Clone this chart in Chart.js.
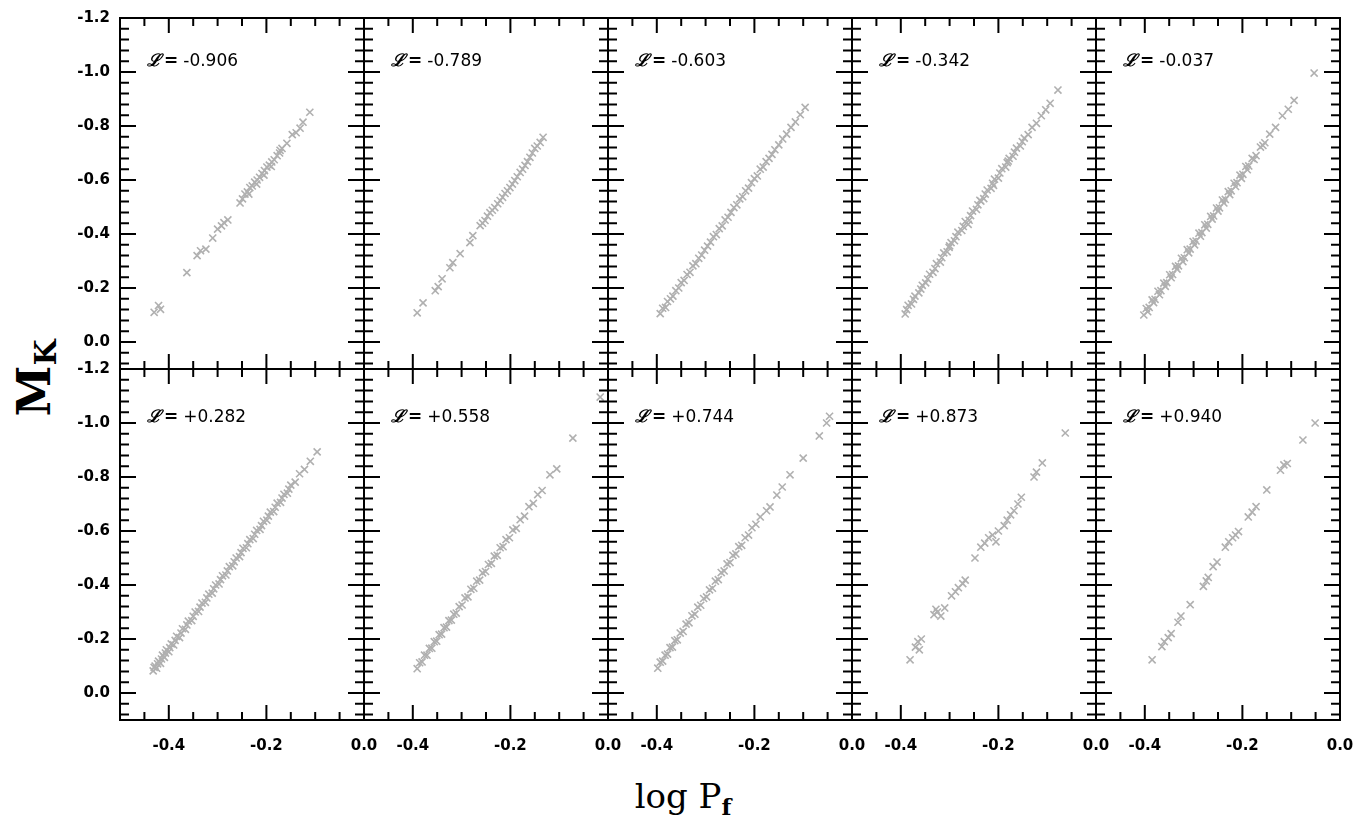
<!DOCTYPE html>
<html>
<head>
<meta charset="utf-8">
<title>M_K vs log P_f</title>
<script src="https://cdn.jsdelivr.net/npm/chart.js@4.4.1/dist/chart.umd.min.js"></script>
<style>
  body { margin: 0; background: #fff; }
  #wrap { position: relative; width: 1361px; height: 830px; overflow: hidden; background: #fff; }
  #wrap canvas { position: absolute; }
  #ytitle {
    position: absolute; left: -20px; top: 350px; width: 110px; height: 56px;
    line-height: 56px; text-align: center; transform: rotate(-90deg);
    font: bold 46px "DejaVu Serif", serif; color: #000; white-space: nowrap;
  }
  #ytitle sub { font-size: 30px; vertical-align: -0.2em; }
  #xtitle {
    position: absolute; left: 583px; top: 776px; width: 200px; text-align: center;
    font: 34px "DejaVu Serif", serif; color: #000; white-space: nowrap;
  }
  #xtitle sub { font-size: 23px; font-weight: bold; vertical-align: -0.3em; }
</style>
</head>
<body>
<div id="wrap">
  <div id="ytitle">M<sub>K</sub></div>
  <div id="xtitle">log P<sub>f</sub></div>
</div>
<script>
// luminosity parameter written in each panel
var lumValues = ['-0.906', '-0.789', '-0.603', '-0.342', '-0.037',
                 '+0.282', '+0.558', '+0.744', '+0.873', '+0.940'];

// axis ticks (labelled)
var xTicks = [-0.4, -0.2, 0.0];
var yTicks = [-1.2, -1.0, -0.8, -0.6, -0.4, -0.2, 0.0];

// [log Pf, M_K] per panel
var ptsA = [[-0.430,-0.110],[-0.421,-0.135],[-0.417,-0.121],[-0.363,-0.257],[-0.342,-0.320],[-0.335,-0.338],
  [-0.324,-0.344],[-0.310,-0.385],[-0.300,-0.418],[-0.292,-0.430],[-0.287,-0.442],[-0.279,-0.452],
  [-0.254,-0.515],[-0.249,-0.530],[-0.244,-0.548],[-0.239,-0.556],[-0.236,-0.548],[-0.234,-0.572],
  [-0.229,-0.578],[-0.224,-0.592],[-0.220,-0.585],[-0.219,-0.600],[-0.214,-0.610],[-0.209,-0.624],
  [-0.205,-0.618],[-0.204,-0.635],[-0.199,-0.648],[-0.194,-0.655],[-0.190,-0.650],[-0.189,-0.667],
  [-0.184,-0.675],[-0.178,-0.690],[-0.173,-0.700],[-0.172,-0.710],[-0.168,-0.717],[-0.158,-0.736],
  [-0.147,-0.768],[-0.139,-0.775],[-0.131,-0.792],[-0.125,-0.814],[-0.111,-0.851]];

var ptsB = [[-0.391,-0.108],[-0.379,-0.145],[-0.354,-0.190],[-0.348,-0.205],[-0.340,-0.234],[-0.324,-0.275],
  [-0.318,-0.294],[-0.303,-0.327],[-0.283,-0.368],[-0.277,-0.394],[-0.262,-0.431],[-0.257,-0.440],
  [-0.252,-0.450],[-0.247,-0.466],[-0.242,-0.479],[-0.237,-0.488],[-0.232,-0.498],[-0.226,-0.512],
  [-0.221,-0.524],[-0.216,-0.536],[-0.211,-0.550],[-0.206,-0.560],[-0.201,-0.572],[-0.196,-0.585],
  [-0.191,-0.598],[-0.186,-0.612],[-0.180,-0.628],[-0.175,-0.640],[-0.170,-0.654],[-0.165,-0.668],
  [-0.160,-0.684],[-0.155,-0.700],[-0.150,-0.717],[-0.145,-0.726],[-0.139,-0.739],[-0.133,-0.758]];

var ptsC = [[-0.393,-0.105],[-0.388,-0.125],[-0.382,-0.128],[-0.378,-0.150],[-0.372,-0.160],[-0.367,-0.170],
  [-0.361,-0.190],[-0.355,-0.200],[-0.350,-0.220],[-0.344,-0.228],[-0.338,-0.250],[-0.332,-0.258],
  [-0.326,-0.282],[-0.320,-0.290],[-0.314,-0.310],[-0.308,-0.322],[-0.302,-0.340],[-0.296,-0.355],
  [-0.290,-0.370],[-0.284,-0.390],[-0.278,-0.398],[-0.272,-0.420],[-0.266,-0.430],[-0.260,-0.452],
  [-0.254,-0.462],[-0.248,-0.480],[-0.242,-0.498],[-0.236,-0.508],[-0.230,-0.530],[-0.224,-0.538],
  [-0.218,-0.560],[-0.212,-0.570],[-0.206,-0.590],[-0.200,-0.605],[-0.194,-0.615],[-0.188,-0.640],
  [-0.182,-0.648],[-0.176,-0.668],[-0.170,-0.680],[-0.164,-0.695],[-0.158,-0.712],[-0.150,-0.730],
  [-0.142,-0.752],[-0.134,-0.770],[-0.125,-0.795],[-0.116,-0.815],[-0.106,-0.842],[-0.096,-0.869]];

var ptsD = [[-0.391,-0.104],[-0.388,-0.120],[-0.385,-0.136],[-0.378,-0.141],[-0.374,-0.158],[-0.371,-0.170],
  [-0.363,-0.182],[-0.359,-0.196],[-0.356,-0.210],[-0.349,-0.219],[-0.345,-0.233],[-0.341,-0.251],
  [-0.334,-0.258],[-0.330,-0.272],[-0.327,-0.290],[-0.319,-0.296],[-0.316,-0.312],[-0.312,-0.330],
  [-0.305,-0.334],[-0.301,-0.350],[-0.300,-0.356],[-0.297,-0.368],[-0.290,-0.375],[-0.287,-0.390],
  [-0.283,-0.407],[-0.275,-0.413],[-0.272,-0.428],[-0.268,-0.446],[-0.262,-0.436],[-0.260,-0.451],
  [-0.257,-0.468],[-0.253,-0.485],[-0.245,-0.491],[-0.242,-0.508],[-0.238,-0.525],[-0.236,-0.522],
  [-0.230,-0.531],[-0.227,-0.548],[-0.223,-0.563],[-0.215,-0.569],[-0.212,-0.588],[-0.210,-0.580],
  [-0.208,-0.603],[-0.200,-0.607],[-0.197,-0.626],[-0.193,-0.642],[-0.185,-0.648],[-0.182,-0.664],
  [-0.180,-0.670],[-0.178,-0.680],[-0.170,-0.688],[-0.167,-0.703],[-0.163,-0.718],[-0.155,-0.726],
  [-0.151,-0.742],[-0.147,-0.755],[-0.139,-0.768],[-0.131,-0.795],[-0.122,-0.810],[-0.112,-0.838],
  [-0.103,-0.860],[-0.094,-0.884],[-0.078,-0.933]];

var ptsE = [[-0.402,-0.100],[-0.397,-0.124],[-0.394,-0.112],[-0.391,-0.128],[-0.385,-0.156],[-0.382,-0.146],
  [-0.379,-0.158],[-0.373,-0.188],[-0.370,-0.175],[-0.367,-0.190],[-0.361,-0.218],[-0.358,-0.206],
  [-0.355,-0.220],[-0.349,-0.249],[-0.346,-0.238],[-0.343,-0.250],[-0.337,-0.280],[-0.334,-0.270],
  [-0.331,-0.282],[-0.325,-0.310],[-0.322,-0.298],[-0.319,-0.312],[-0.313,-0.342],[-0.310,-0.330],
  [-0.307,-0.344],[-0.301,-0.372],[-0.298,-0.360],[-0.295,-0.374],[-0.289,-0.403],[-0.286,-0.392],
  [-0.283,-0.405],[-0.277,-0.434],[-0.274,-0.422],[-0.271,-0.436],[-0.265,-0.465],[-0.262,-0.455],
  [-0.259,-0.467],[-0.253,-0.496],[-0.250,-0.485],[-0.247,-0.497],[-0.241,-0.526],[-0.238,-0.515],
  [-0.235,-0.528],[-0.229,-0.557],[-0.226,-0.546],[-0.223,-0.560],[-0.217,-0.588],[-0.214,-0.576],
  [-0.211,-0.590],[-0.205,-0.618],[-0.202,-0.606],[-0.199,-0.621],[-0.193,-0.650],[-0.190,-0.638],
  [-0.187,-0.652],[-0.180,-0.680],[-0.176,-0.676],[-0.172,-0.690],[-0.163,-0.722],[-0.158,-0.728],
  [-0.154,-0.738],[-0.144,-0.770],[-0.132,-0.795],[-0.118,-0.838],[-0.106,-0.862],[-0.094,-0.895],
  [-0.053,-0.996]];

var ptsF = [[-0.432,-0.082],[-0.430,-0.095],[-0.428,-0.100],[-0.425,-0.092],[-0.423,-0.108],[-0.421,-0.118],
  [-0.417,-0.110],[-0.415,-0.126],[-0.413,-0.140],[-0.409,-0.132],[-0.407,-0.148],[-0.405,-0.160],
  [-0.400,-0.153],[-0.398,-0.168],[-0.395,-0.182],[-0.390,-0.178],[-0.387,-0.195],[-0.384,-0.210],
  [-0.378,-0.205],[-0.375,-0.222],[-0.372,-0.238],[-0.366,-0.236],[-0.363,-0.252],[-0.360,-0.266],
  [-0.353,-0.268],[-0.350,-0.284],[-0.346,-0.300],[-0.339,-0.302],[-0.336,-0.318],[-0.332,-0.333],
  [-0.325,-0.336],[-0.322,-0.352],[-0.318,-0.366],[-0.311,-0.370],[-0.308,-0.386],[-0.304,-0.400],
  [-0.297,-0.404],[-0.294,-0.420],[-0.290,-0.434],[-0.283,-0.437],[-0.280,-0.452],[-0.276,-0.468],
  [-0.269,-0.471],[-0.266,-0.486],[-0.262,-0.500],[-0.255,-0.505],[-0.252,-0.520],[-0.248,-0.536],
  [-0.241,-0.538],[-0.238,-0.553],[-0.234,-0.568],[-0.227,-0.572],[-0.224,-0.588],[-0.220,-0.602],
  [-0.213,-0.606],[-0.210,-0.620],[-0.206,-0.636],[-0.199,-0.640],[-0.196,-0.655],[-0.192,-0.670],
  [-0.185,-0.672],[-0.182,-0.688],[-0.178,-0.703],[-0.171,-0.706],[-0.168,-0.722],[-0.164,-0.736],
  [-0.157,-0.740],[-0.154,-0.755],[-0.150,-0.770],[-0.141,-0.781],[-0.132,-0.812],[-0.122,-0.828],
  [-0.110,-0.858],[-0.096,-0.893]];

var ptsG = [[-0.391,-0.090],[-0.386,-0.112],[-0.381,-0.115],[-0.376,-0.140],[-0.371,-0.140],[-0.366,-0.165],
  [-0.361,-0.166],[-0.356,-0.190],[-0.351,-0.192],[-0.346,-0.216],[-0.341,-0.218],[-0.336,-0.242],
  [-0.331,-0.244],[-0.326,-0.268],[-0.321,-0.270],[-0.316,-0.292],[-0.311,-0.296],[-0.305,-0.320],
  [-0.299,-0.326],[-0.293,-0.352],[-0.287,-0.356],[-0.281,-0.384],[-0.275,-0.388],[-0.269,-0.414],
  [-0.263,-0.418],[-0.257,-0.445],[-0.251,-0.450],[-0.245,-0.476],[-0.239,-0.480],[-0.233,-0.507],
  [-0.227,-0.510],[-0.221,-0.538],[-0.215,-0.542],[-0.209,-0.568],[-0.202,-0.575],[-0.195,-0.604],
  [-0.188,-0.610],[-0.180,-0.642],[-0.171,-0.655],[-0.162,-0.690],[-0.153,-0.702],[-0.144,-0.735],
  [-0.135,-0.750],[-0.119,-0.808],[-0.105,-0.830],[-0.072,-0.944],[-0.016,-1.096]];

var ptsH = [[-0.398,-0.092],[-0.393,-0.114],[-0.388,-0.118],[-0.383,-0.140],[-0.378,-0.144],[-0.373,-0.168],
  [-0.368,-0.170],[-0.363,-0.194],[-0.358,-0.197],[-0.352,-0.222],[-0.346,-0.228],[-0.340,-0.255],
  [-0.334,-0.260],[-0.328,-0.286],[-0.322,-0.292],[-0.316,-0.318],[-0.310,-0.325],[-0.304,-0.350],
  [-0.298,-0.356],[-0.292,-0.382],[-0.286,-0.388],[-0.280,-0.414],[-0.274,-0.420],[-0.268,-0.446],
  [-0.262,-0.452],[-0.256,-0.478],[-0.250,-0.483],[-0.244,-0.510],[-0.238,-0.515],[-0.232,-0.542],
  [-0.226,-0.547],[-0.219,-0.575],[-0.212,-0.585],[-0.205,-0.612],[-0.197,-0.625],[-0.188,-0.652],
  [-0.175,-0.675],[-0.168,-0.689],[-0.154,-0.733],[-0.143,-0.763],[-0.127,-0.808],[-0.100,-0.870],
  [-0.067,-0.952],[-0.052,-1.000],[-0.046,-1.025]];

var ptsI = [[-0.381,-0.123],[-0.370,-0.170],[-0.365,-0.190],[-0.362,-0.160],[-0.358,-0.200],[-0.332,-0.290],
  [-0.328,-0.310],[-0.325,-0.300],[-0.318,-0.285],[-0.310,-0.315],[-0.296,-0.360],[-0.288,-0.375],
  [-0.282,-0.390],[-0.273,-0.405],[-0.268,-0.418],[-0.248,-0.500],[-0.236,-0.540],[-0.228,-0.555],
  [-0.220,-0.575],[-0.212,-0.585],[-0.205,-0.560],[-0.200,-0.600],[-0.188,-0.620],[-0.182,-0.640],
  [-0.175,-0.660],[-0.168,-0.675],[-0.160,-0.700],[-0.153,-0.725],[-0.127,-0.800],[-0.122,-0.818],
  [-0.110,-0.852],[-0.063,-0.963]];

var ptsJ = [[-0.385,-0.123],[-0.365,-0.172],[-0.360,-0.190],[-0.352,-0.205],[-0.346,-0.220],[-0.332,-0.262],
  [-0.326,-0.285],[-0.307,-0.327],[-0.280,-0.395],[-0.274,-0.415],[-0.270,-0.428],[-0.260,-0.468],
  [-0.252,-0.485],[-0.235,-0.540],[-0.228,-0.560],[-0.220,-0.575],[-0.214,-0.585],[-0.208,-0.598],
  [-0.188,-0.652],[-0.180,-0.670],[-0.172,-0.690],[-0.150,-0.752],[-0.122,-0.825],[-0.115,-0.845],
  [-0.108,-0.850],[-0.076,-0.937],[-0.051,-1.000]];

var panels = [ptsA, ptsB, ptsC, ptsD, ptsE, ptsF, ptsG, ptsH, ptsI, ptsJ];

// page layout of the 2 x 5 grid
var colLefts = [120, 364, 608, 852, 1096];
var rowTops = [18, 369];
var panelW = 244, panelH = 351;
var padL = 70, padR = 25, padT = 20, padB = 45;

var wrap = document.getElementById('wrap');

function isMajor(v) {
  return Math.abs(v * 5 - Math.round(v * 5)) < 1e-6;
}

// frame with inward ticks on all four sides, plus the luminosity label
var frameTicks = {
  id: 'frameTicks',
  afterDraw: function (chart, args, opts) {
    var ctx = chart.ctx, a = chart.chartArea;
    var xs = chart.scales.x, ys = chart.scales.y;
    ctx.save();
    ctx.strokeStyle = '#000';
    ctx.lineWidth = 2;
    ctx.beginPath();
    for (var i = 1; i < 10; i++) {
      var xv = Math.round((-0.5 + i * 0.05) * 100) / 100;
      var px = xs.getPixelForValue(xv);
      var lx = isMajor(xv) ? 15 : 8;
      ctx.moveTo(px, a.top); ctx.lineTo(px, a.top + lx);
      ctx.moveTo(px, a.bottom); ctx.lineTo(px, a.bottom - lx);
    }
    for (var j = 1; j <= 32; j++) {
      var yv = Math.round((-1.2 + j * 0.04) * 100) / 100;
      var py = ys.getPixelForValue(yv);
      var ly = isMajor(yv) ? 16 : 9;
      ctx.moveTo(a.left, py); ctx.lineTo(a.left + ly, py);
      ctx.moveTo(a.right, py); ctx.lineTo(a.right - ly, py);
    }
    ctx.stroke();
    ctx.strokeRect(a.left, a.top, a.right - a.left, a.bottom - a.top);

    // "ℒ = value"
    var tx = a.left + 27, ty = a.top + opts.labelDy;
    ctx.fillStyle = '#000';
    ctx.textBaseline = 'middle';
    ctx.font = 'bold italic 17px "DejaVu Serif"';
    ctx.fillText('\u2112', tx, ty);
    tx += ctx.measureText('\u2112').width + 3;
    ctx.font = 'bold 17px "DejaVu Sans"';
    ctx.fillText('=', tx, ty);
    tx += ctx.measureText('=').width + 5;
    ctx.font = '17px "DejaVu Sans"';
    ctx.fillText(opts.text, tx, ty);
    ctx.restore();
  }
};

function makePanel(idx) {
  var row = Math.floor(idx / 5), col = idx % 5;
  var cv = document.createElement('canvas');
  cv.width = panelW + padL + padR;
  cv.height = panelH + padT + padB;
  cv.style.left = (colLefts[col] - padL) + 'px';
  cv.style.top = (rowTops[row] - padT) + 'px';
  wrap.appendChild(cv);

  var tickFont = { family: 'DejaVu Sans', size: 15, weight: 'bold' };

  new Chart(cv, {
    type: 'scatter',
    data: {
      datasets: [{
        data: panels[idx].map(function (p) { return { x: p[0], y: p[1] }; }),
        pointStyle: 'crossRot',
        pointRadius: 5,
        borderColor: '#b0b0b0',
        borderWidth: 1.6
      }]
    },
    options: {
      responsive: false,
      animation: false,
      events: [],
      layout: { padding: { left: padL - 50, right: padR, top: padT, bottom: 0 } },
      plugins: {
        legend: { display: false },
        tooltip: { enabled: false },
        frameTicks: { text: lumValues[idx], labelDy: row === 0 ? 44 : 49 }
      },
      scales: {
        x: {
          type: 'linear', min: -0.5, max: 0,
          grid: { display: false, drawTicks: false },
          border: { display: false },
          afterBuildTicks: function (s) { s.ticks = xTicks.map(function (v) { return { value: v }; }); },
          afterFit: function (s) { s.height = padB; s.paddingLeft = 0; s.paddingRight = 0; },
          ticks: {
            display: row === 1, padding: 17, color: '#000', font: tickFont,
            maxRotation: 0, autoSkip: false,
            callback: function (v) { return v.toFixed(1); }
          }
        },
        y: {
          type: 'linear', min: -1.2, max: 0.1, reverse: true,
          grid: { display: false, drawTicks: false },
          border: { display: false },
          afterBuildTicks: function (s) { s.ticks = yTicks.map(function (v) { return { value: v }; }); },
          afterFit: function (s) { s.width = 50; s.paddingTop = 0; s.paddingBottom = 0; },
          ticks: {
            display: col === 0, padding: 10, color: '#000', font: tickFont,
            autoSkip: false,
            callback: function (v) { return v.toFixed(1); }
          }
        }
      }
    },
    plugins: [frameTicks]
  });
}

for (var k = 0; k < 10; k++) makePanel(k);
</script>
</body>
</html>
